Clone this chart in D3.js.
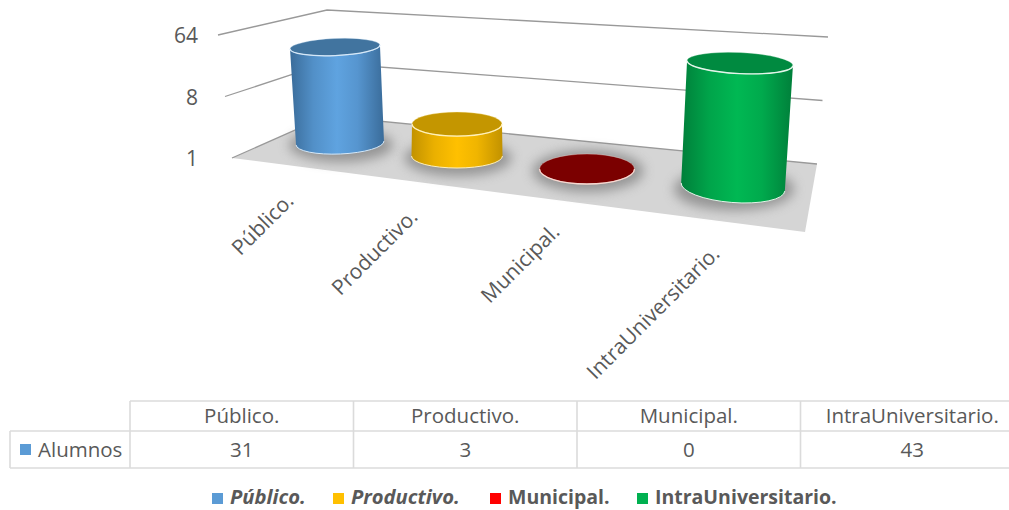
<!DOCTYPE html>
<html><head><meta charset="utf-8">
<script src="https://cdn.jsdelivr.net/npm/d3@7/dist/d3.min.js"></script>
<style>html,body{margin:0;padding:0;background:#fff}svg{display:block}text{font-family:"Open Sans",sans-serif;fill:#595959}</style>
</head><body><svg id="c" width="1009" height="510"></svg>
<script>
const categories = ["Público.", "Productivo.", "Municipal.", "IntraUniversitario."];
const alumnos = [31, 3, 0, 43];
const axisTicks = [1, 8, 64];
const seriesName = "Alumnos";
const colors = ["#5B9BD5", "#FFC000", "#FF0000", "#00B050"];
const bodyMid = ["#5FA3E0", "#FFC000", "#7B0000", "#00B853"];
const bodyEdge = ["#3A6C9A", "#C29200", "#7B0000", "#007F3A"];
const topFill = ["#41749F", "#C49600", "#7B0000", "#008A40"];
const rimColor = ["#D5E8F8", "#FFF0B8", "#F8D8D0", "#E4F5EA"];
const legendStyle = ["italic", "italic", "normal", "normal"];
const legendSize = [20.5, 20.5, 19.8, 19.8];

const svg = d3.select("#c");
const defs = svg.append("defs");
const idx = categories.map((_, i) => i);
const ix = s => d3.scaleLinear().domain(idx).range(s);

// projected box: a log axis at each of the three visible wall corners
const level = r => d3.scaleLog().base(8).domain([1, 64]).range(r);
const corners = [
  {x: level([232, 218]), y: level([158, 35])},
  {x: level([327, 327]), y: level([116, 10])},
  {x: level([817, 828]), y: level([164, 37])}
];
svg.append("polygon").attr("fill", "#D5D5D5")
  .attr("points", [[corners[0].x(1), corners[0].y(1)], [corners[1].x(1), corners[1].y(1)],
                   [corners[2].x(1), corners[2].y(1)], [805, 232]].join(" "));
axisTicks.forEach(t => {
  svg.append("polyline").attr("fill", "none").attr("stroke", "#999999").attr("stroke-width", 1.3)
    .attr("points", corners.map(c => [c.x(t), c.y(t)]).join(" "));
});
svg.selectAll(".yt").data(axisTicks).join("text").attr("class", "yt")
  .attr("x", 198).attr("y", d => corners[0].y(d) + 8).attr("text-anchor", "end")
  .attr("font-size", 21).text(d => d);

// cylinders
const baseX = ix([340, 457, 587, 733]), baseY = ix([143, 156, 169, 187]);
const baseRx = ix([44, 45.5, 47.5, 52]), baseRy = ix([11, 12, 15, 15.5]);
const topRx = ix([45, 45, 47.5, 53]), topRy = ix([8.5, 12, 15, 10.5]);
const unit = ix([58.1, 60.5, 64, 68.5]);
const lean = ix([-5, 0, 0, 7]);
const topTilt = ix([-2.5, 0, 0, 2.7]), baseTilt = ix([-2.5, 0, 0, 4.5]);
const logV = d3.scaleLog().base(8).domain([1, 64]).range([0, 2]).clamp(true);

const blur = defs.append("filter").attr("id", "sh").attr("x", "-40%").attr("y", "-60%").attr("width", "180%").attr("height", "220%");
blur.append("feGaussianBlur").attr("stdDeviation", 6);

function ends(cx, cy, rx, deg) {
  const t = deg * Math.PI / 180;
  return [[cx - rx * Math.cos(t), cy - rx * Math.sin(t)], [cx + rx * Math.cos(t), cy + rx * Math.sin(t)]];
}
idx.forEach(i => {
  const v = alumnos[i];
  const bx = baseX(i), by = baseY(i), h = logV(Math.max(v, 1)) * unit(i);
  const tx = bx + lean(i) * (h > 0 ? 1 : 0), ty = by - h;
  const bt = baseTilt(i), tt = topTilt(i);
  svg.append("ellipse").attr("cx", bx + 1).attr("cy", by + 2).attr("rx", baseRx(i) + 8).attr("ry", baseRy(i) + 6)
    .attr("fill", "#6a6a6a").attr("opacity", 0.6).attr("filter", "url(#sh)");
  const g = defs.append("linearGradient").attr("id", "g" + i);
  [[0, bodyEdge[i]], [0.25, d3.interpolateRgb(bodyEdge[i], bodyMid[i])(0.65)], [0.5, bodyMid[i]], [0.72, d3.interpolateRgb(bodyEdge[i], bodyMid[i])(0.75)], [1, bodyEdge[i]]]
    .forEach(s => g.append("stop").attr("offset", s[0]).attr("stop-color", s[1]));
  const [tl, tr] = ends(tx, ty, topRx(i), tt), [bl, br] = ends(bx, by, baseRx(i), bt);
  if (h > 0) {
    svg.append("path").attr("fill", `url(#g${i})`)
      .attr("d", `M${tl}L${bl}A${baseRx(i)} ${baseRy(i)} ${bt} 0 0 ${br}L${tr}A${topRx(i)} ${topRy(i)} ${tt} 0 1 ${tl}Z`);
    // bright rim along the base's front arc
    svg.append("path").attr("fill", "none").attr("stroke", rimColor[i]).attr("stroke-width", 1)
      .attr("d", `M${bl}A${baseRx(i)} ${baseRy(i)} ${bt} 0 0 ${br}`);
  }
  svg.append("ellipse").attr("transform", `rotate(${tt} ${tx} ${ty})`)
    .attr("cx", tx).attr("cy", ty).attr("rx", topRx(i)).attr("ry", topRy(i))
    .attr("fill", topFill[i]).attr("stroke", rimColor[i]).attr("stroke-opacity", 0.35).attr("stroke-width", 1);
  // bright rim along the top's front arc
  svg.append("path").attr("fill", "none").attr("stroke", rimColor[i]).attr("stroke-width", 1.3)
    .attr("d", `M${tl}A${topRx(i)} ${topRy(i)} ${tt} 0 0 ${tr}`);
});

// rotated category labels
const labelX = ix([295, 419, 561, 721]), labelY = ix([202, 218, 233, 255]);
svg.selectAll(".cat").data(categories).join("text").attr("class", "cat")
  .attr("text-anchor", "end").attr("font-size", 21)
  .attr("transform", (d, i) => `translate(${labelX(i)},${labelY(i)}) rotate(-45)`).text(d => d);

// data table
const col = d3.scaleBand().domain(categories).range([130, 1024]);
const rows = d3.scaleOrdinal().domain(["top", "mid", "bot"]).range([401, 431, 468]);
const tl = "#DBDBDB";
const line = (x1, y1, x2, y2) => svg.append("line").attr("x1", x1).attr("y1", y1).attr("x2", x2).attr("y2", y2).attr("stroke", tl).attr("stroke-width", 1.6);
line(col.range()[0], rows("top"), 1009, rows("top"));
line(10, rows("mid"), 1009, rows("mid"));
line(10, rows("bot"), 1009, rows("bot"));
line(10, rows("mid"), 10, rows("bot"));
categories.forEach(c => line(col(c), rows("top"), col(c), rows("bot")));
svg.selectAll(".th").data(categories).join("text").attr("class", "th").attr("text-anchor", "middle")
  .attr("x", d => col(d) + col.bandwidth() / 2).attr("y", 423).attr("font-size", 20.5).text(d => d);
svg.selectAll(".td").data(alumnos).join("text").attr("class", "td").attr("text-anchor", "middle")
  .attr("x", (d, i) => col(categories[i]) + col.bandwidth() / 2).attr("y", 457).attr("font-size", 20.5).text(d => d);
svg.append("rect").attr("x", 20).attr("y", 444).attr("width", 11).attr("height", 11).attr("fill", colors[0]);
svg.append("text").attr("x", 38).attr("y", 457).attr("font-size", 20.5).text(seriesName);

// legend
const legendX = ix([212, 333, 490, 637]);
categories.forEach((c, i) => {
  svg.append("rect").attr("x", legendX(i)).attr("y", 493).attr("width", 11).attr("height", 11).attr("fill", colors[i]);
  svg.append("text").attr("x", legendX(i) + 18).attr("y", 504).attr("font-size", legendSize[i] - 0.3)
    .attr("font-weight", 700).attr("font-style", legendStyle[i]).text(c);
});
</script></body></html>
